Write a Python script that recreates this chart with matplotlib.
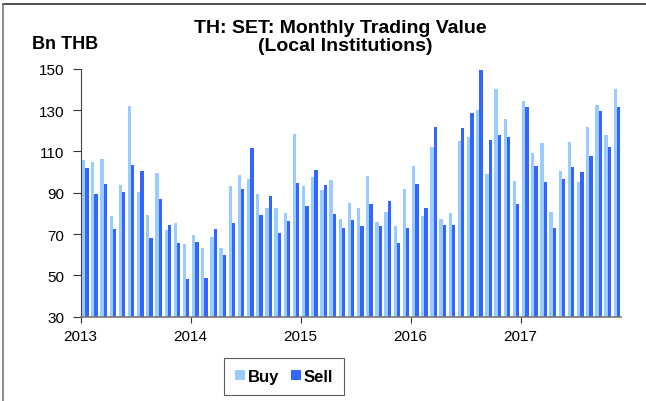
import numpy as np
import matplotlib.pyplot as plt
from matplotlib.lines import Line2D

plt.rcParams['font.family'] = ['Liberation Sans', 'DejaVu Sans']

# Valores mensais (Bn THB), jan/2013 a nov/2017
buy_2013 = [106.1, 104.9, 106.4, 78.5, 93.8, 131.9, 90.4, 79.4, 99.6, 72.0, 75.5, 65.1]
sell_2013 = [101.9, 89.4, 94.1, 72.2, 90.4, 103.3, 100.6, 68.0, 87.2, 74.6, 65.7, 48.1]
buy_2014 = [69.6, 63.1, 68.6, 63.1, 93.3, 98.6, 96.7, 89.4, 82.7, 82.7, 80.1, 118.5]
sell_2014 = [66.2, 48.9, 72.5, 60.0, 75.2, 91.9, 111.7, 79.4, 88.3, 70.4, 76.4, 94.6]
buy_2015 = [93.3, 97.5, 91.2, 96.2, 77.3, 85.1, 82.8, 98.3, 75.7, 80.6, 73.8, 91.9]
sell_2015 = [83.5, 101.1, 94.0, 79.7, 73.1, 76.8, 73.9, 84.4, 73.9, 86.0, 65.8, 72.8]
buy_2016 = [103.0, 78.5, 112.4, 77.2, 80.1, 115.1, 117.1, 130.0, 99.1, 140.2, 125.8, 95.6]
sell_2016 = [94.4, 82.8, 121.9, 74.3, 74.3, 121.4, 128.5, 149.4, 115.6, 118.2, 117.1, 84.4]
buy_2017 = [134.5, 109.3, 114.0, 80.7, 100.4, 114.8, 95.3, 121.8, 132.6, 117.9, 140.3]
sell_2017 = [131.7, 102.9, 95.3, 73.0, 96.9, 102.7, 100.1, 108.0, 129.7, 112.2, 131.7]

buy = buy_2013 + buy_2014 + buy_2015 + buy_2016 + buy_2017
sell = sell_2013 + sell_2014 + sell_2015 + sell_2016 + sell_2017
anos = ['2013', '2014', '2015', '2016', '2017']

n = len(buy)
meses = np.arange(n)

fig = plt.figure(figsize=(6.46, 4.02), dpi=100)
ax = fig.add_axes([0.125, 0.21, 0.837, 0.616])

largura = 0.36
ax.bar(meses + 0.5 - largura / 2, buy, width=largura, bottom=0, color='#99ccff', label='Buy')
ax.bar(meses + 0.5 + largura / 2, sell, width=largura, bottom=0, color='#3366ff', label='Sell')

ax.set_xlim(0, n)
ax.set_ylim(30, 150)
ax.set_yticks(range(30, 151, 20))
ax.set_xticks([0, 12, 24, 36, 48])
ax.set_xticklabels(anos)
ax.tick_params(axis='y', length=6, width=0.8, pad=6, labelsize=11, color='#333333')
ax.tick_params(axis='x', length=4, width=0.8, pad=5, labelsize=11, color='#333333')

for lado in ['top', 'right']:
    ax.spines[lado].set_visible(False)
ax.spines['left'].set_color('#444444')
ax.spines['bottom'].set_color('#777777')
ax.spines['bottom'].set_linewidth(1.2)

# Titulo e unidade
fig.text(0.527, 0.93, 'TH: SET: Monthly Trading Value', ha='center', va='center',
         fontsize=14, fontweight='bold')
fig.text(0.535, 0.885, '(Local Institutions)', ha='center', va='center',
         fontsize=14, fontweight='bold')
fig.text(0.049, 0.89, 'Bn THB', ha='left', va='center', fontsize=13, fontweight='bold')

leg = ax.legend(loc='center', bbox_to_anchor=(0.44, 0.061), bbox_transform=fig.transFigure,
                ncol=2, frameon=True, fancybox=False, edgecolor='#333333',
                prop={'weight': 'bold', 'size': 12}, handlelength=0.6, handleheight=0.6,
                handletextpad=0.15, columnspacing=0.75, borderpad=0.65, borderaxespad=0)
leg.get_frame().set_linewidth(0.8)

# Moldura (so topo e lado esquerdo aparecem no recorte)
fig.add_artist(Line2D([0.005, 1.0], [0.987, 0.987], color='#333333', lw=1.2, transform=fig.transFigure))
fig.add_artist(Line2D([0.005, 0.005], [0.0, 0.987], color='#777777', lw=1.2, transform=fig.transFigure))

fig.savefig('out.png', dpi=100)
